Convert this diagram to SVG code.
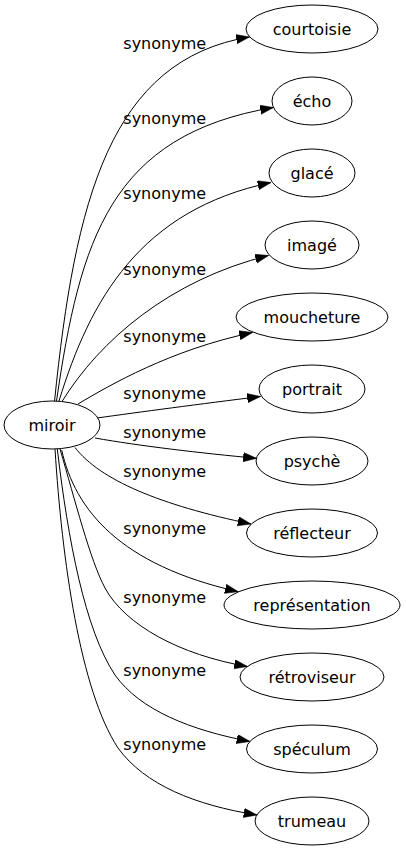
<svg xmlns="http://www.w3.org/2000/svg" width="406" height="851" viewBox="0 0 406 851">
<style>
  .node ellipse { fill: #ffffff; stroke: #000000; stroke-width: 1; }
  .node text, .lbl { font-family: "DejaVu Sans", "Liberation Sans", sans-serif; font-size: 16px; fill: #000000; }
  .node text { text-anchor: middle; }
  .edge { fill: none; stroke: #000000; stroke-width: 1; marker-end: url(#arrow); }
</style>
<defs>
  <marker id="arrow" markerUnits="userSpaceOnUse" markerWidth="14" markerHeight="10" refX="13.3" refY="4.67" orient="auto">
    <path d="M0,0 L13.3,4.67 L0,9.33 Z" fill="#000000" stroke="#000000" stroke-width="0.5"/>
  </marker>
</defs>
<rect width="406" height="851" fill="#ffffff"/>
<g id="connectors">
  <path class="edge" d="M54.5,401.5 C75,200 110,60 249.5,37"/>
  <path class="edge" d="M56.5,401 C80,240 110,135 273.5,107.5"/>
  <path class="edge" d="M59,401 C90,300 140,210 271,182.5"/>
  <path class="edge" d="M62,401.5 C100,340 170,280 268.5,255.5"/>
  <path class="edge" d="M78,404 C110,385 170,350 252.5,332.5"/>
  <path class="edge" d="M97,418 C140,412 200,404 260.5,396.5"/>
  <path class="edge" d="M95,438 C140,446 200,453 256.5,458.3"/>
  <path class="edge" d="M75,447.5 C100,480 160,505 251,524"/>
  <path class="edge" d="M61.7,450 C75,510 120,565 238.3,591.7"/>
  <path class="edge" d="M60,449 C75,500 90,560 105,588 C125,625 180,655 247.5,666.5"/>
  <path class="edge" d="M57.3,449 C68,540 85,630 115,675 C140,710 190,730 250,741.5"/>
  <path class="edge" d="M55,449 C62,560 80,690 118,748 C145,785 195,805 257,815"/>
  <text class="lbl" x="123.3" y="49">synonyme</text>
  <text class="lbl" x="123.3" y="124">synonyme</text>
  <text class="lbl" x="123.3" y="199">synonyme</text>
  <text class="lbl" x="123.3" y="275">synonyme</text>
  <text class="lbl" x="123.3" y="342">synonyme</text>
  <text class="lbl" x="123.3" y="399">synonyme</text>
  <text class="lbl" x="123.3" y="438">synonyme</text>
  <text class="lbl" x="123.3" y="477">synonyme</text>
  <text class="lbl" x="123.3" y="534">synonyme</text>
  <text class="lbl" x="123.3" y="603">synonyme</text>
  <text class="lbl" x="123.3" y="676">synonyme</text>
  <text class="lbl" x="123.3" y="750">synonyme</text>
</g>
<g id="miroir" class="node"><ellipse cx="52" cy="425" rx="48" ry="24"/><text x="52" y="430.5">miroir</text></g>
<g id="courtoisie" class="node"><ellipse cx="312" cy="29" rx="66" ry="24"/><text x="312" y="34.5">courtoisie</text></g>
<g id="echo" class="node"><ellipse cx="312" cy="101" rx="40" ry="24"/><text x="312" y="106.5">écho</text></g>
<g id="glace" class="node"><ellipse cx="312" cy="173" rx="43" ry="24"/><text x="312" y="178.5">glacé</text></g>
<g id="image" class="node"><ellipse cx="312" cy="245" rx="47" ry="24"/><text x="312" y="250.5">imagé</text></g>
<g id="moucheture" class="node"><ellipse cx="312" cy="317" rx="76" ry="24"/><text x="312" y="322.5">moucheture</text></g>
<g id="portrait" class="node"><ellipse cx="312" cy="389" rx="53" ry="24"/><text x="312" y="394.5">portrait</text></g>
<g id="psyche" class="node"><ellipse cx="312" cy="461" rx="56" ry="24"/><text x="312" y="466.5">psychè</text></g>
<g id="reflecteur" class="node"><ellipse cx="312" cy="533" rx="65.5" ry="24"/><text x="312" y="538.5">réflecteur</text></g>
<g id="representation" class="node"><ellipse cx="312" cy="605" rx="88" ry="24"/><text x="312" y="610.5">représentation</text></g>
<g id="retroviseur" class="node"><ellipse cx="312" cy="677" rx="72" ry="24"/><text x="312" y="682.5">rétroviseur</text></g>
<g id="speculum" class="node"><ellipse cx="312" cy="749" rx="65.5" ry="24"/><text x="312" y="754.5">spéculum</text></g>
<g id="trumeau" class="node"><ellipse cx="312" cy="821" rx="57" ry="24"/><text x="312" y="826.5">trumeau</text></g>
</svg>
